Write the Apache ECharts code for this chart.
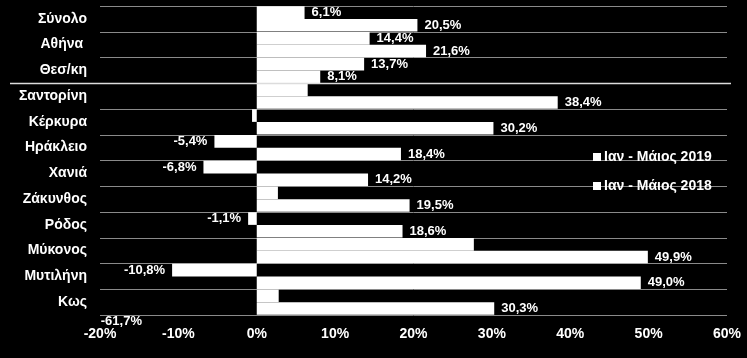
<!DOCTYPE html>
<html>
<head>
<meta charset="utf-8">
<script src="https://cdn.jsdelivr.net/npm/echarts@6/dist/echarts.min.js"></script>
<style>
html,body{margin:0;padding:0;background:#000;}
#chart{width:747px;height:358px;}
</style>
</head>
<body>
<div id="chart"></div>
<script>
var categories = ['Σύνολο','Αθήνα ','Θεσ/κη','Σαντορίνη','Κέρκυρα','Ηράκλειο','Χανιά','Ζάκυνθος','Ρόδος','Μύκονος','Μυτιλήνη','Κως'];
var values2019 = [6.1, 14.4, 13.7, 6.5, -0.6, -5.4, -6.8, 2.7, -1.1, 27.7, -10.8, 2.8];
var values2018 = [20.5, 21.6, 8.1, 38.4, 30.2, 18.4, 14.2, 19.5, 18.6, 49.9, 49.0, 30.3];
var labels2019 = ['6,1%','14,4%','13,7%','','','-5,4%','-6,8%','','-1,1%','','-10,8%','-61,7%'];
var labels2018 = ['20,5%','21,6%','8,1%','38,4%','30,2%','18,4%','14,2%','19,5%','18,6%','49,9%','49,0%','30,3%'];
var xTicks = [-20, -10, 0, 10, 20, 30, 40, 50, 60];
var seriesNames = ['Ιαν - Μάιος 2019', 'Ιαν - Μάιος 2018'];

var FONT = '"Liberation Sans", Arial, sans-serif';

function buildData(vals, labels, special) {
  return vals.map(function (v, i) {
    var lbl = labels[i];
    var item = { value: v, label: { show: !!lbl, formatter: lbl || '' } };
    if (v < 0) item.label.position = 'left';
    if (special && special[i]) item.label.position = special[i];
    return item;
  });
}

var chart = echarts.init(document.getElementById('chart'), null, {renderer: 'canvas'});
var labelStyle = { color: '#fff', fontFamily: FONT, fontWeight: 'bold', fontSize: 13, distance: 7 };

chart.setOption({
  backgroundColor: '#000',
  animation: false,
  grid: { left: 100, right: 20, top: 6, bottom: 43, containLabel: false },
  legend: {
    orient: 'vertical', left: 588, top: 145, itemGap: 15,
    icon: 'rect', itemWidth: 8, itemHeight: 8,
    textStyle: { color: '#fff', fontFamily: FONT, fontWeight: 'bold', fontSize: 14, padding: [0, 0, 0, -2] },
    data: seriesNames
  },
  xAxis: {
    type: 'value', min: xTicks[0], max: xTicks[xTicks.length - 1], interval: 10,
    axisLine: { show: false }, axisTick: { show: false }, splitLine: { show: false },
    axisLabel: { color: '#fff', fontFamily: FONT, fontWeight: 'bold', fontSize: 14, margin: 12,
      formatter: function (v) { return v + '%'; } }
  },
  yAxis: {
    type: 'category', data: categories, inverse: true,
    axisLine: { show: false }, axisTick: { show: false },
    splitLine: { show: true, lineStyle: { color: '#8a8a8a', width: 1 } },
    axisLabel: { color: '#fff', fontFamily: FONT, fontWeight: 'bold', fontSize: 14, margin: 13 }
  },
  series: [
    { name: seriesNames[0], type: 'bar', barGap: '0%', barCategoryGap: '2%',
      itemStyle: { color: '#fff' }, label: Object.assign({ position: 'right' }, labelStyle),
      data: buildData(values2019, labels2019, { 11: [-156, 25] }) },
    { name: seriesNames[1], type: 'bar', barGap: '0%', barCategoryGap: '2%',
      itemStyle: { color: '#fff' }, label: Object.assign({ position: 'right' }, labelStyle),
      data: buildData(values2018, labels2018) }
  ]
});

// separator line between Θεσ/κη and Σαντορίνη
var y2 = chart.convertToPixel({ yAxisIndex: 0 }, categories[2]);
var y3 = chart.convertToPixel({ yAxisIndex: 0 }, categories[3]);
var ySep = Math.round((y2 + y3) / 2) + 0.5;
chart.setOption({
  graphic: [{
    type: 'line', shape: { x1: 10, y1: ySep, x2: 731, y2: ySep },
    style: { stroke: '#dcdcdc', lineWidth: 1.5 }, z: 10
  }]
});
</script>
</body>
</html>
